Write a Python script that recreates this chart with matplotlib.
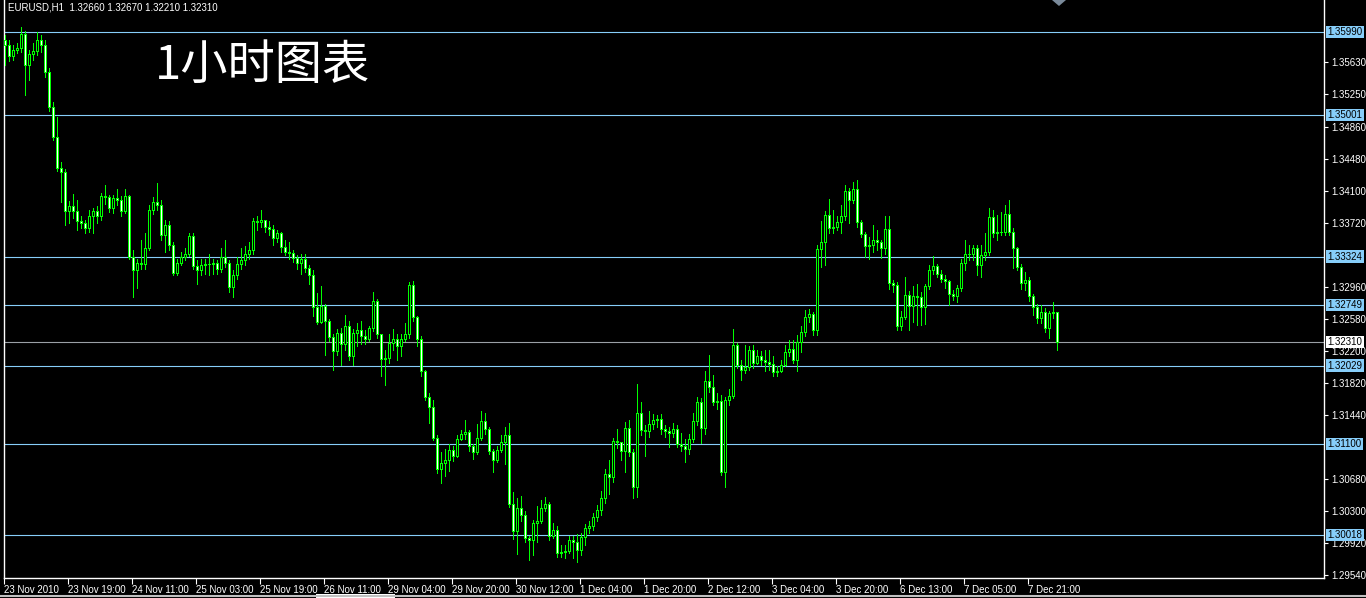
import numpy as np
import matplotlib
matplotlib.use('Agg')
import matplotlib.pyplot as plt
from matplotlib import rcParams
from matplotlib.patches import Polygon, Rectangle
from matplotlib.lines import Line2D

rcParams['font.family'] = ['Liberation Sans', 'DejaVu Sans']
rcParams['font.size'] = 7

# EURUSD H1, 23 Nov 2010 00:00 -> 8 Dec 2010 05:00 (one value per hourly bar)
first_open = 1.3590

closes = [
    1.3584, 1.3570, 1.3578, 1.3580, 1.3597, 1.3560, 1.3573, 1.3576, 1.3590, 1.3584,
    1.3552, 1.3510, 1.3474, 1.3438, 1.3433, 1.3386, 1.3392, 1.3386, 1.3375, 1.3372,
    1.3366, 1.3380, 1.3386, 1.3380, 1.3404, 1.3403, 1.3390, 1.3402, 1.3400, 1.3387,
    1.3404, 1.3332, 1.3317, 1.3325, 1.3324, 1.3343, 1.3388, 1.3397, 1.3394, 1.3358,
    1.3370, 1.3346, 1.3313, 1.3325, 1.3332, 1.3336, 1.3357, 1.3321, 1.3316, 1.3322,
    1.3324, 1.3323, 1.3325, 1.3318, 1.3332, 1.3325, 1.3296, 1.3311, 1.3324, 1.3328,
    1.3336, 1.3340, 1.3374, 1.3373, 1.3376, 1.3367, 1.3365, 1.3354, 1.3360, 1.3344,
    1.3338, 1.3337, 1.3331, 1.3325, 1.3329, 1.3319, 1.3311, 1.3273, 1.3255, 1.3274,
    1.3256, 1.3237, 1.3220, 1.3242, 1.3228, 1.3250, 1.3214, 1.3242, 1.3245, 1.3238,
    1.3235, 1.3248, 1.3280, 1.3240, 1.3211, 1.3212, 1.3230, 1.3234, 1.3226, 1.3234,
    1.3241, 1.3299, 1.3261, 1.3235, 1.3196, 1.3166, 1.3154, 1.3117, 1.3080, 1.3087,
    1.3091, 1.3103, 1.3096, 1.3116, 1.3122, 1.3124, 1.3107, 1.3100, 1.3117, 1.3137,
    1.3128, 1.3102, 1.3091, 1.3103, 1.3112, 1.3120, 1.3039, 1.3006, 1.3034, 1.3026,
    1.2998, 1.2996, 1.3016, 1.3018, 1.3034, 1.3038, 1.3001, 1.3008, 1.2980, 1.2981,
    1.2983, 1.2996, 1.2994, 1.2984, 1.2999, 1.3010, 1.3012, 1.3023, 1.3032, 1.3046,
    1.3074, 1.3071, 1.3113, 1.3112, 1.3102, 1.3129, 1.3100, 1.3059, 1.3147, 1.3127,
    1.3125, 1.3134, 1.3138, 1.3140, 1.3128, 1.3125, 1.3123, 1.3128, 1.3110, 1.3108,
    1.3104, 1.3116, 1.3137, 1.3160, 1.3129, 1.3185, 1.3178, 1.3160, 1.3161, 1.3077,
    1.3162, 1.3167, 1.3227, 1.3204, 1.3198, 1.3201, 1.3222, 1.3206, 1.3214, 1.3210,
    1.3207, 1.3205, 1.3195, 1.3197, 1.3204, 1.3219, 1.3223, 1.3210, 1.3231, 1.3243,
    1.3261, 1.3264, 1.3245, 1.3341, 1.3350, 1.3382, 1.3366, 1.3368, 1.3373, 1.3380,
    1.3410, 1.3400, 1.3412, 1.3373, 1.3359, 1.3345, 1.3346, 1.3352, 1.3350, 1.3343,
    1.3365, 1.3301, 1.3299, 1.3250, 1.3261, 1.3287, 1.3274, 1.3285, 1.3284, 1.3273,
    1.3297, 1.3316, 1.3321, 1.3312, 1.3306, 1.3303, 1.3288, 1.3285, 1.3295, 1.3325,
    1.3335, 1.3336, 1.3342, 1.3322, 1.3334, 1.3338, 1.3379, 1.3360, 1.3361, 1.3362,
    1.3383, 1.3362, 1.3343, 1.3320, 1.3301, 1.3305, 1.3285, 1.3273, 1.3259, 1.3266,
    1.3248, 1.3265, 1.3266, 1.3231]

highs = [
    1.3596, 1.3590, 1.3584, 1.3586, 1.3605, 1.3600, 1.3578, 1.3586, 1.3599, 1.3596,
    1.3590, 1.3556, 1.3516, 1.3498, 1.3445, 1.3436, 1.3398, 1.3407, 1.3400, 1.3380,
    1.3376, 1.3388, 1.3390, 1.3392, 1.3408, 1.3417, 1.3406, 1.3406, 1.3412, 1.3404,
    1.3412, 1.3406, 1.3340, 1.3330, 1.3352, 1.3360, 1.3394, 1.3403, 1.3420, 1.3400,
    1.3376, 1.3374, 1.3350, 1.3330, 1.3338, 1.3342, 1.3360, 1.3360, 1.3328, 1.3330,
    1.3330, 1.3335, 1.3330, 1.3328, 1.3343, 1.3352, 1.3328, 1.3316, 1.3332, 1.3343,
    1.3345, 1.3350, 1.3378, 1.3380, 1.3388, 1.3376, 1.3374, 1.3370, 1.3364, 1.3362,
    1.3352, 1.3350, 1.3340, 1.3334, 1.3335, 1.3336, 1.3322, 1.3316, 1.3289, 1.3297,
    1.3276, 1.3258, 1.3240, 1.3246, 1.3248, 1.3263, 1.3256, 1.3246, 1.3254, 1.3256,
    1.3245, 1.3250, 1.3290, 1.3282, 1.3240, 1.3222, 1.3240, 1.3246, 1.3240, 1.3240,
    1.3254, 1.3302, 1.3303, 1.3262, 1.3238, 1.3198, 1.3170, 1.3162, 1.3120, 1.3100,
    1.3104, 1.3110, 1.3108, 1.3120, 1.3126, 1.3138, 1.3126, 1.3110, 1.3133, 1.3149,
    1.3147, 1.3130, 1.3104, 1.3108, 1.3120, 1.3130, 1.3135, 1.3053, 1.3046, 1.3048,
    1.3030, 1.3001, 1.3020, 1.3036, 1.3043, 1.3047, 1.3041, 1.3016, 1.3012, 1.2990,
    1.2990, 1.3000, 1.3000, 1.3003, 1.3004, 1.3015, 1.3018, 1.3028, 1.3037, 1.3054,
    1.3080, 1.3091, 1.3117, 1.3128, 1.3112, 1.3136, 1.3138, 1.3104, 1.3181, 1.3160,
    1.3132, 1.3149, 1.3145, 1.3144, 1.3146, 1.3132, 1.3130, 1.3135, 1.3132, 1.3123,
    1.3116, 1.3122, 1.3147, 1.3166, 1.3164, 1.3197, 1.3216, 1.3192, 1.3170, 1.3168,
    1.3166, 1.3175, 1.3246, 1.3230, 1.3210, 1.3227, 1.3226, 1.3227, 1.3222, 1.3220,
    1.3222, 1.3222, 1.3214, 1.3203, 1.3210, 1.3227, 1.3233, 1.3233, 1.3239, 1.3250,
    1.3269, 1.3270, 1.3266, 1.3346, 1.3375, 1.3386, 1.3401, 1.3388, 1.3380, 1.3394,
    1.3417, 1.3414, 1.3421, 1.3423, 1.3376, 1.3362, 1.3355, 1.3370, 1.3364, 1.3352,
    1.3380, 1.3380, 1.3305, 1.3302, 1.3268, 1.3308, 1.3292, 1.3298, 1.3300, 1.3290,
    1.3300, 1.3322, 1.3333, 1.3324, 1.3317, 1.3310, 1.3305, 1.3293, 1.3299, 1.3329,
    1.3352, 1.3346, 1.3346, 1.3346, 1.3346, 1.3360, 1.3390, 1.3388, 1.3382, 1.3385,
    1.3394, 1.3400, 1.3366, 1.3344, 1.3324, 1.3314, 1.3308, 1.3288, 1.3276, 1.3275,
    1.3271, 1.3268, 1.3279, 1.3267]

lows = [
    1.3560, 1.3565, 1.3566, 1.3574, 1.3575, 1.3524, 1.3542, 1.3566, 1.3572, 1.3575,
    1.3545, 1.3505, 1.3471, 1.3434, 1.3397, 1.3370, 1.3372, 1.3378, 1.3364, 1.3366,
    1.3360, 1.3362, 1.3360, 1.3372, 1.3376, 1.3395, 1.3385, 1.3384, 1.3394, 1.3380,
    1.3384, 1.3330, 1.3284, 1.3295, 1.3318, 1.3318, 1.3340, 1.3383, 1.3388, 1.3352,
    1.3338, 1.3340, 1.3310, 1.3310, 1.3322, 1.3328, 1.3333, 1.3318, 1.3300, 1.3310,
    1.3312, 1.3310, 1.3312, 1.3312, 1.3314, 1.3320, 1.3290, 1.3284, 1.3306, 1.3318,
    1.3322, 1.3330, 1.3336, 1.3364, 1.3368, 1.3362, 1.3358, 1.3346, 1.3350, 1.3338,
    1.3334, 1.3330, 1.3326, 1.3318, 1.3312, 1.3314, 1.3300, 1.3262, 1.3252, 1.3254,
    1.3216, 1.3232, 1.3198, 1.3215, 1.3204, 1.3222, 1.3210, 1.3204, 1.3226, 1.3228,
    1.3228, 1.3232, 1.3244, 1.3236, 1.3191, 1.3180, 1.3206, 1.3222, 1.3210, 1.3214,
    1.3232, 1.3236, 1.3256, 1.3226, 1.3190, 1.3162, 1.3135, 1.3114, 1.3075, 1.3064,
    1.3072, 1.3078, 1.3090, 1.3094, 1.3114, 1.3116, 1.3102, 1.3092, 1.3098, 1.3115,
    1.3122, 1.3098, 1.3076, 1.3088, 1.3100, 1.3086, 1.3035, 1.2997, 1.2979, 1.3018,
    1.2994, 1.2972, 1.2978, 1.2994, 1.3016, 1.3030, 1.2996, 1.2998, 1.2976, 1.2976,
    1.2975, 1.2980, 1.2975, 1.2970, 1.2978, 1.2990, 1.3004, 1.3008, 1.3018, 1.3026,
    1.3040, 1.3051, 1.3065, 1.3105, 1.3091, 1.3077, 1.3095, 1.3046, 1.3047, 1.3120,
    1.3096, 1.3118, 1.3128, 1.3130, 1.3122, 1.3118, 1.3106, 1.3118, 1.3106, 1.3102,
    1.3088, 1.3098, 1.3112, 1.3132, 1.3111, 1.3122, 1.3172, 1.3156, 1.3151, 1.3073,
    1.3059, 1.3156, 1.3165, 1.3200, 1.3186, 1.3194, 1.3198, 1.3200, 1.3205, 1.3204,
    1.3197, 1.3198, 1.3191, 1.3191, 1.3195, 1.3202, 1.3214, 1.3206, 1.3196, 1.3219,
    1.3238, 1.3255, 1.3239, 1.3239, 1.3320, 1.3322, 1.3360, 1.3360, 1.3364, 1.3360,
    1.3376, 1.3372, 1.3396, 1.3368, 1.3355, 1.3332, 1.3330, 1.3338, 1.3340, 1.3331,
    1.3336, 1.3294, 1.3290, 1.3245, 1.3245, 1.3258, 1.3245, 1.3255, 1.3251, 1.3251,
    1.3252, 1.3294, 1.3312, 1.3308, 1.3302, 1.3295, 1.3275, 1.3281, 1.3278, 1.3292,
    1.3316, 1.3328, 1.3328, 1.3311, 1.3308, 1.3328, 1.3334, 1.3355, 1.3352, 1.3358,
    1.3358, 1.3358, 1.3319, 1.3317, 1.3294, 1.3293, 1.3280, 1.3263, 1.3254, 1.3254,
    1.3243, 1.3236, 1.3260, 1.3221]

# horizontal levels drawn on the chart, and the current bid
levels = [1.35990, 1.35001, 1.33324, 1.32749, 1.32029, 1.31100, 1.30018]
bid = 1.32310

# scale values shown on the right (the ones under the level boxes are left out)
price_ticks = [1.29540, 1.29920, 1.30300, 1.30680, 1.31440, 1.31820,
               1.32200, 1.32580, 1.32960, 1.33720, 1.34100, 1.34480,
               1.34860, 1.35250, 1.35630]

time_labels = ['23 Nov 2010', '23 Nov 19:00', '24 Nov 11:00', '25 Nov 03:00',
               '25 Nov 19:00', '26 Nov 11:00', '29 Nov 04:00', '29 Nov 20:00',
               '30 Nov 12:00', '1 Dec 04:00', '1 Dec 20:00', '2 Dec 12:00',
               '3 Dec 04:00', '3 Dec 20:00', '6 Dec 13:00', '7 Dec 05:00',
               '7 Dec 21:00']
bars_per_label = 16

header = 'EURUSD,H1  1.32660 1.32670 1.32210 1.32310'
title = '1小时图表'

LIME = '#00ff00'
LEVEL_BLUE = '#87cefa'
BID_GREY = '#9aa0a6'
W, H = 1366, 598

fig = plt.figure(figsize=(W / 100, H / 100), dpi=100, facecolor='black')
# chart frame: x 4..1324 px, y 0..578 px (from top)
ax = fig.add_axes([4 / W, 20 / H, 1320 / W, 578 / H])
ax.set_facecolor('black')

n = len(closes)
x = np.arange(n)
opens = np.array([first_open] + closes[:-1])
c = np.array(closes)
hi = np.maximum(np.array(highs), np.maximum(opens, c))
lo = np.minimum(np.array(lows), np.minimum(opens, c))

# wicks
ax.vlines(x, lo, hi, color=LIME, linewidth=0.72, antialiased=False, zorder=3)

# bodies: bull = black inside, bear = white inside (MT4 green on black)
bottoms = np.minimum(opens, c)
heights = np.maximum(np.abs(c - opens), 0.00002)
faces = ['black' if cc >= oo else 'white' for oo, cc in zip(opens, c)]
ax.bar(x, heights, bottom=bottoms, width=0.5, color=faces, edgecolor=LIME,
       linewidth=0.72, antialiased=False, zorder=4)

# price levels
for lv in levels:
    ax.axhline(lv, color=LEVEL_BLUE, linewidth=0.8, zorder=2)
ax.axhline(bid, color=BID_GREY, linewidth=0.8, zorder=2)

ax.set_xlim(-0.25, 329.75)
ax.set_ylim(1.29507, 1.36370)

for side in ['left', 'right', 'bottom']:
    ax.spines[side].set_color('white')
    ax.spines[side].set_linewidth(1.0)
ax.spines['top'].set_visible(False)

# time axis
ax.set_xticks([k * bars_per_label - 0.25 for k in range(len(time_labels))])
ax.set_xticklabels(time_labels, ha='left', color='white', fontsize=7)
ax.tick_params(axis='x', direction='out', length=4, width=0.8, colors='white',
               pad=1)

# price axis on the right
ax.yaxis.tick_right()
ax.set_yticks(price_ticks)
ax.set_yticklabels(['%.5f' % v for v in price_ticks], color='white', fontsize=7)
ax.tick_params(axis='y', direction='out', length=3, width=0.8, colors='white',
               pad=2)

# labels of the levels on the price axis
trans = ax.get_yaxis_transform()
for lv in levels:
    ax.text(1.0 + 3.5 / 1320, lv, '%.5f' % lv, transform=trans, va='center',
            ha='left', fontsize=7, color='black', clip_on=False, zorder=10,
            bbox=dict(boxstyle='square,pad=0.12', fc=LEVEL_BLUE, ec='none'))
ax.text(1.0 + 3.5 / 1320, bid, '%.5f' % bid, transform=trans, va='center',
        ha='left', fontsize=7, color='black', clip_on=False, zorder=10,
        bbox=dict(boxstyle='square,pad=0.12', fc='white', ec='none'))

# texts
fig.text(8 / W, 1 - 7 / H, header, color='white', fontsize=7, va='center')
fig.text(155 / W, 1 - 66 / H, title, color='white', fontsize=34, va='center',
         family=['Noto Sans CJK SC', 'DejaVu Sans'])

# chart shift marker at the top and the window strip at the bottom
tri = [(1052, 0), (1066, 0), (1059, 6)]
fig.patches.append(Polygon([(px / W, 1 - py / H) for px, py in tri],
                           closed=True, transform=fig.transFigure,
                           fc='#7a8a9a', ec='none'))
fig.lines.append(Line2D([0, 1], [1 - 596 / H, 1 - 596 / H],
                        transform=fig.transFigure, color='#c0c0c0', lw=1.5))
fig.patches.append(Rectangle((316 / W, 0), 79 / W, 4 / H,
                             transform=fig.transFigure, fc='white', ec='none'))

fig.savefig('out.png', dpi=100, facecolor='black')
